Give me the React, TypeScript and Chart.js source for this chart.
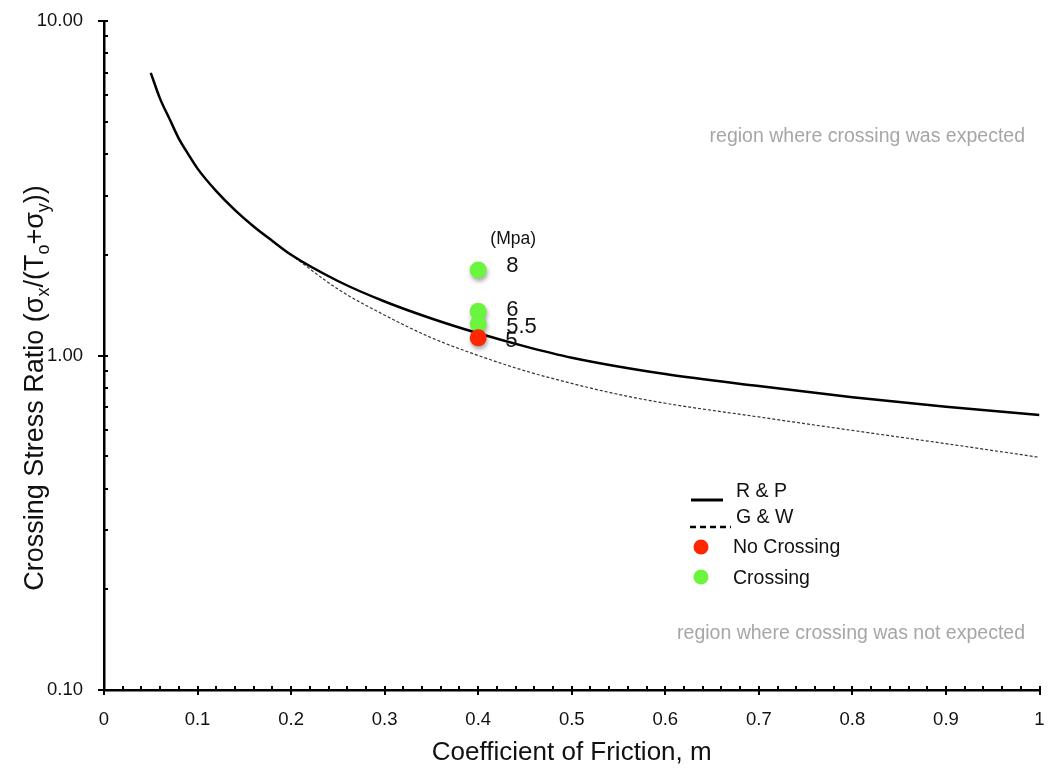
import { useEffect, useRef } from 'react';
import { Chart, registerables } from 'chart.js';

Chart.register(...registerables);

const FONT = '"Liberation Sans", Arial, Helvetica, sans-serif';

// R & P criterion curve
const frictionRP = [0.05, 0.06, 0.07, 0.08, 0.09, 0.1, 0.12, 0.14, 0.16, 0.18, 0.2, 0.25, 0.3, 0.35, 0.4, 0.45, 0.5, 0.6, 0.7, 0.8, 0.9, 1.0];
const ratioRP = [7.0, 5.85, 5.1, 4.45, 4.0, 3.62, 3.1, 2.72, 2.43, 2.2, 2.0, 1.67, 1.45, 1.29, 1.165, 1.065, 0.985, 0.88, 0.81, 0.75, 0.703, 0.664];

// G & W criterion curve
const frictionGW = [0.2, 0.25, 0.3, 0.35, 0.4, 0.45, 0.5, 0.55, 0.6, 0.7, 0.8, 0.9, 1.0];
const ratioGW = [2.0, 1.58, 1.32, 1.13, 1.0, 0.9, 0.825, 0.765, 0.72, 0.655, 0.597, 0.545, 0.496];

// Experiments
const crossingFriction = [0.4, 0.4, 0.4];
const crossingRatio = [1.8, 1.357, 1.244];
const crossingLabels = ['8', '6', '5.5'];
const noCrossingFriction = [0.4];
const noCrossingRatio = [1.129];
const noCrossingLabels = ['5'];

// Axes
const xTicks = [0, 0.1, 0.2, 0.3, 0.4, 0.5, 0.6, 0.7, 0.8, 0.9, 1];
const yTicks = [0.1, 1, 10];

const GREEN = '#6cf53f';
const RED = '#ff2600';

const toPts = (xs: number[], ys: number[]) => xs.map((x, i) => ({ x, y: ys[i] }));

const decorPlugin = {
  id: 'decor',
  beforeDatasetDraw(chart: any, args: any) {
    const ds = chart.data.datasets[args.index];
    if (ds.isMarker) {
      const ctx = chart.ctx;
      ctx.save();
      ctx.shadowColor = 'rgba(0,0,0,0.35)';
      ctx.shadowBlur = 4;
      ctx.shadowOffsetX = 1;
      ctx.shadowOffsetY = 3;
    }
  },
  afterDatasetDraw(chart: any, args: any) {
    const ds = chart.data.datasets[args.index];
    if (ds.isMarker) chart.ctx.restore();
  },
  afterDraw(chart: any) {
    const ctx = chart.ctx;
    const xs = chart.scales.x;
    const ys = chart.scales.y;
    const { left, right, bottom } = chart.chartArea;
    ctx.save();

    // tick marks
    ctx.strokeStyle = '#000';
    ctx.lineWidth = 2;
    ctx.beginPath();
    for (let i = 0; i <= 50; i++) {
      const v = i / 50;
      const px = Math.round(xs.getPixelForValue(v));
      if (i % 5 === 0) {
        ctx.moveTo(px, bottom - 4);
        ctx.lineTo(px, bottom + 5);
      } else {
        ctx.moveTo(px, bottom - 4);
        ctx.lineTo(px, bottom);
      }
    }
    for (const dec of [0.1, 1]) {
      for (let m = 2; m <= 9; m++) {
        const py = Math.round(ys.getPixelForValue(dec * m));
        ctx.moveTo(left, py);
        ctx.lineTo(left + 4, py);
      }
    }
    for (const v of yTicks) {
      const py = Math.round(ys.getPixelForValue(v));
      ctx.moveTo(left - 6, py);
      ctx.lineTo(left + 4, py);
    }
    ctx.stroke();

    // x title
    ctx.fillStyle = '#111';
    ctx.textAlign = 'center';
    ctx.textBaseline = 'middle';
    ctx.font = `26px ${FONT}`;
    ctx.fillText('Coefficient of Friction, m', (left + right) / 2, 753);

    // y title with subscripts
    const size = 27;
    const segs: [string, boolean][] = [
      ['Crossing Stress Ratio (\u03c3', false],
      ['x', true],
      ['/(T', false],
      ['o', true],
      ['+\u03c3', false],
      ['y', true],
      ['))', false],
    ];
    const widths = segs.map(([t, sub]) => {
      ctx.font = `${sub ? Math.round(size * 0.65) : size}px ${FONT}`;
      return ctx.measureText(t).width;
    });
    const total = widths.reduce((a, b) => a + b, 0);
    ctx.save();
    ctx.translate(36, 388);
    ctx.rotate(-Math.PI / 2);
    ctx.textAlign = 'left';
    let cx = -total / 2;
    segs.forEach(([t, sub], i) => {
      ctx.font = `${sub ? Math.round(size * 0.65) : size}px ${FONT}`;
      ctx.fillText(t, cx, sub ? size * 0.3 : 0);
      cx += widths[i];
    });
    ctx.restore();

    // region notes
    ctx.fillStyle = '#a6a6a6';
    ctx.font = `19.5px ${FONT}`;
    ctx.textAlign = 'right';
    ctx.fillText('region where crossing was expected', 1025, 137);
    ctx.fillText('region where crossing was not expected', 1025, 634);

    // point labels
    ctx.fillStyle = '#111';
    ctx.textAlign = 'left';
    ctx.font = `22px ${FONT}`;
    const dys = [-4, -1, 3];
    crossingLabels.forEach((lab, i) => {
      const px = xs.getPixelForValue(crossingFriction[i]);
      const py = ys.getPixelForValue(crossingRatio[i]);
      ctx.fillText(lab, px + 28, py + dys[i]);
    });
    noCrossingLabels.forEach((lab, i) => {
      const px = xs.getPixelForValue(noCrossingFriction[i]);
      const py = ys.getPixelForValue(noCrossingRatio[i]);
      ctx.fillText(lab, px + 27, py + 3);
    });
    {
      const px = xs.getPixelForValue(crossingFriction[0]);
      const py = ys.getPixelForValue(crossingRatio[0]);
      ctx.font = `17.5px ${FONT}`;
      ctx.textAlign = 'center';
      ctx.fillText('(Mpa)', px + 35, py - 31);
    }

    // legend
    ctx.textAlign = 'left';
    ctx.font = `19.5px ${FONT}`;
    ctx.fillStyle = '#111';
    ctx.strokeStyle = '#000';
    ctx.lineWidth = 3;
    ctx.beginPath();
    ctx.moveTo(691, 500);
    ctx.lineTo(723, 500);
    ctx.stroke();
    ctx.fillText('R & P', 736, 492);
    ctx.lineWidth = 2.5;
    ctx.setLineDash([6, 4]);
    ctx.beginPath();
    ctx.moveTo(690, 527);
    ctx.lineTo(731, 527);
    ctx.stroke();
    ctx.setLineDash([]);
    ctx.fillText('G & W', 736, 518);
    ctx.fillStyle = RED;
    ctx.beginPath();
    ctx.arc(701, 547, 7.5, 0, Math.PI * 2);
    ctx.fill();
    ctx.fillStyle = GREEN;
    ctx.beginPath();
    ctx.arc(701, 577, 7.5, 0, Math.PI * 2);
    ctx.fill();
    ctx.fillStyle = '#111';
    ctx.fillText('No Crossing', 733, 548);
    ctx.fillText('Crossing', 733, 579);

    ctx.restore();
  },
};

export default function App() {
  const ref = useRef<HTMLCanvasElement | null>(null);

  useEffect(() => {
    document.body.style.margin = '0';
    const canvas = ref.current;
    if (!canvas) return;
    Chart.defaults.font.family = FONT;
    const chart = new Chart(canvas, {
      type: 'scatter',
      data: {
        datasets: [
          {
            label: 'No Crossing',
            data: toPts(noCrossingFriction, noCrossingRatio),
            backgroundColor: RED,
            borderWidth: 0,
            pointRadius: 8.5,
            isMarker: true,
          } as any,
          {
            label: 'Crossing',
            data: toPts(crossingFriction, crossingRatio),
            backgroundColor: GREEN,
            borderWidth: 0,
            pointRadius: 8.5,
            isMarker: true,
          } as any,
          {
            label: 'R & P',
            data: toPts(frictionRP, ratioRP),
            showLine: true,
            borderColor: '#000',
            borderWidth: 2.5,
            pointRadius: 0,
            cubicInterpolationMode: 'monotone',
          },
          {
            label: 'G & W',
            data: toPts(frictionGW, ratioGW),
            showLine: true,
            borderColor: '#333',
            borderWidth: 1.2,
            borderDash: [3, 2],
            pointRadius: 0,
            cubicInterpolationMode: 'monotone',
          },
        ],
      },
      options: {
        responsive: false,
        animation: false,
        layout: { padding: { left: 0, right: 8, top: 21, bottom: 0 } },
        plugins: {
          legend: { display: false },
          tooltip: { enabled: false },
        },
        scales: {
          x: {
            type: 'linear',
            min: 0,
            max: 1,
            afterBuildTicks: (s: any) => {
              s.ticks = xTicks.map((v) => ({ value: v }));
            },
            afterFit: (s: any) => {
              s.height = 84;
              s.paddingLeft = 0;
              s.paddingRight = 0;
            },
            ticks: {
              autoSkip: false,
              maxRotation: 0,
              padding: 19,
              color: '#111',
              font: { size: 18.5, family: FONT },
              callback: (v: any) => String(v),
            },
            grid: { display: false, drawTicks: false },
            border: { display: true, color: '#000', width: 2.5 },
          },
          y: {
            type: 'logarithmic',
            min: 0.1,
            max: 10,
            afterBuildTicks: (s: any) => {
              s.ticks = yTicks.map((v) => ({ value: v }));
            },
            afterFit: (s: any) => {
              s.width = 104;
              s.paddingTop = 0;
              s.paddingBottom = 0;
            },
            ticks: {
              autoSkip: false,
              padding: 21,
              color: '#111',
              font: { size: 18.5, family: FONT },
              callback: (v: any) => Number(v).toFixed(2),
            },
            grid: { display: false, drawTicks: false },
            border: { display: true, color: '#000', width: 2.5 },
          },
        },
      },
      plugins: [decorPlugin],
    });
    return () => chart.destroy();
  }, []);

  return (
    <div style={{ width: 1048, height: 774 }}>
      <canvas ref={ref} width={1048} height={774} />
    </div>
  );
}
